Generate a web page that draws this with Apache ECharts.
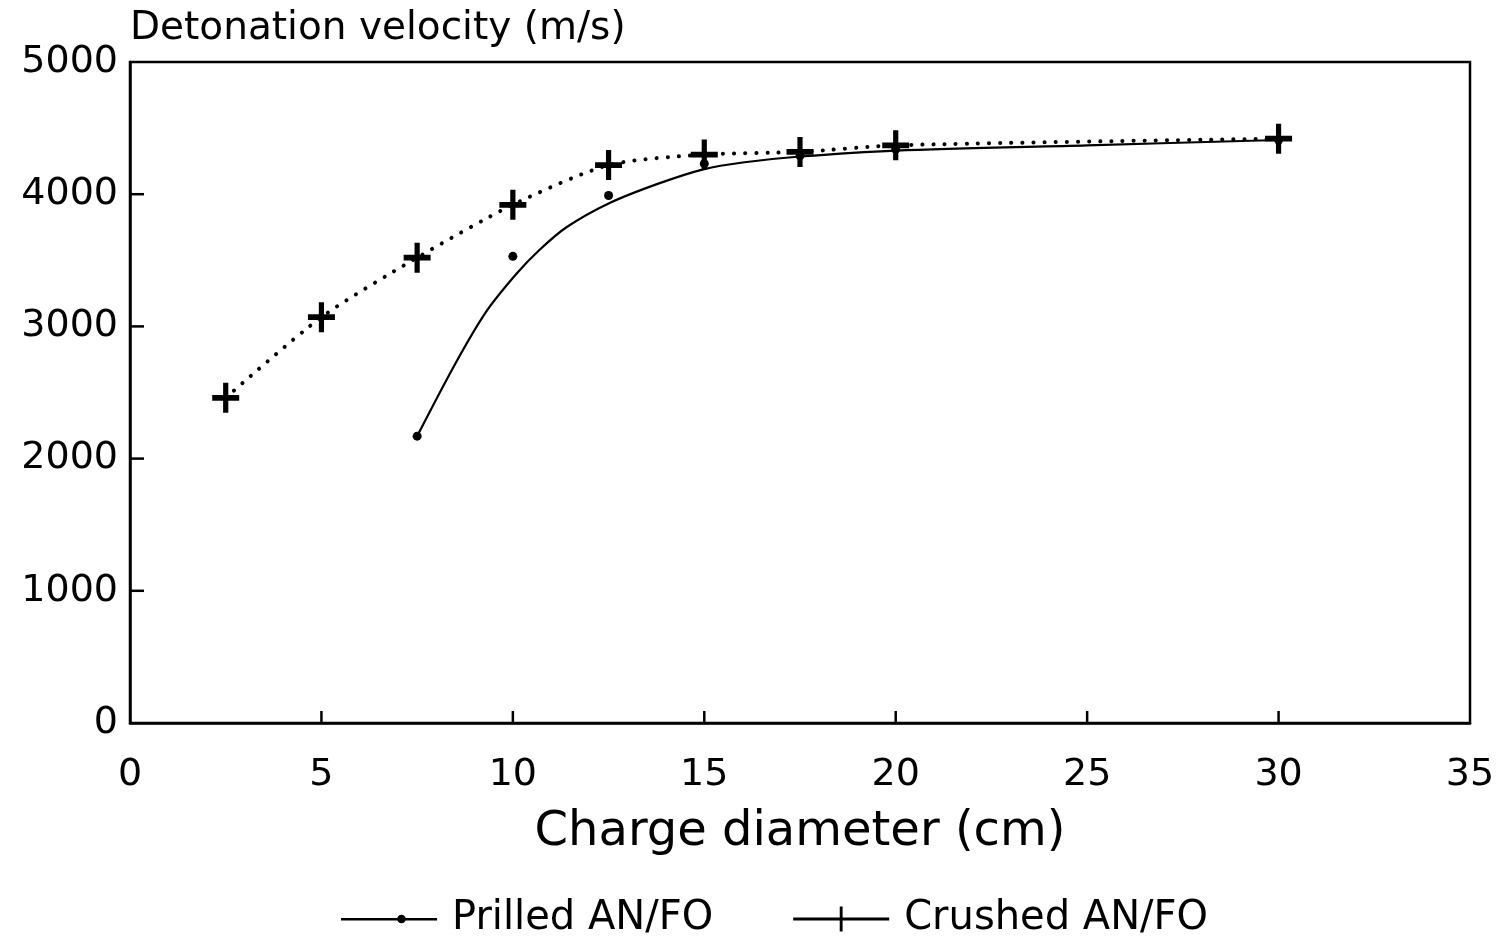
<!DOCTYPE html>
<html>
<head>
<meta charset="utf-8">
<script src="https://cdn.jsdelivr.net/npm/echarts@6/dist/echarts.min.js"></script>
<style>
html,body{margin:0;padding:0;background:#fff;}
#chart{width:1502px;height:936px;}
</style>
</head>
<body>
<div id="chart"></div>
<script>
// Data
var crushedX = [2.5, 5, 7.5, 10, 12.5, 15, 17.5, 20, 30];
var crushedY = [2460, 3070, 3520, 3920, 4220, 4300, 4320, 4370, 4420];
var prilledPointX = [7.5, 10, 12.5, 15, 17.5, 20, 30];
var prilledPointY = [2170, 3530, 3990, 4230, 4290, 4340, 4410];
var prilledCurveX = [7.5, 8.5, 9.3, 10.1, 10.7, 11.4, 12.5, 13.8, 15, 16, 17.5, 20, 25, 30];
var prilledCurveY = [2170, 2720, 3110, 3400, 3580, 3750, 3930, 4080, 4190, 4240, 4285, 4330, 4370, 4410];
var xTicks = [0, 5, 10, 15, 20, 25, 30, 35];
var yTicks = [0, 1000, 2000, 3000, 4000, 5000];

function pairs(xs, ys) { return xs.map(function (x, i) { return [x, ys[i]]; }); }

var FONT = 'DejaVu Sans';
var plusPath = 'path://M0,10.5L26,10.5L26,15.5L0,15.5Z M10.5,0L15.5,0L15.5,26L10.5,26Z';
var legendPrilled = 'path://M0,12L100,12L100,14.5L0,14.5Z M63,8.5A4.5,4.5 0 1,1 62.99,8.5Z';
var legendCrushed = 'path://M0,11.5L100,11.5L100,14.5L0,14.5Z M48.5,0L51.5,0L51.5,26L48.5,26Z';

// inward tick marks drawn through the axis scales
function tickSeries(values, isX) {
  return {
    type: 'custom', silent: true, z: 5, clip: false,
    data: values.map(function (v) { return isX ? [v, 0] : [0, v]; }),
    renderItem: function (params, api) {
      var p = api.coord([api.value(0), api.value(1)]);
      var shape = isX ? {x1: p[0], y1: p[1], x2: p[0], y2: p[1] - 12}
                      : {x1: p[0], y1: p[1], x2: p[0] + 14, y2: p[1]};
      return {type: 'line', shape: shape, style: {stroke: '#000', lineWidth: 2.5}};
    }
  };
}

var chart = echarts.init(document.getElementById('chart'), null, {renderer: 'canvas'});
chart.setOption({
  animation: false,
  backgroundColor: '#ffffff',
  grid: {
    left: 130, right: 32, top: 62, bottom: 213,
    show: true, borderColor: '#000', borderWidth: 2.5, backgroundColor: 'transparent'
  },
  legend: {
    left: 336, top: 894,
    itemWidth: 96, itemHeight: 26, itemGap: 80,
    textStyle: {fontFamily: FONT, fontSize: 40, color: '#000', padding: [0, 0, 0, 10]},
    data: [
      {name: 'Prilled AN/FO', icon: legendPrilled},
      {name: 'Crushed AN/FO', icon: legendCrushed}
    ]
  },
  xAxis: {
    type: 'value', min: 0, max: 35, interval: 5,
    name: 'Charge diameter (cm)', nameLocation: 'middle', nameGap: 86,
    nameTextStyle: {fontFamily: FONT, fontSize: 48, color: '#000'},
    axisLine: {show: true, onZero: false, lineStyle: {color: '#000', width: 2.5}},
    axisTick: {show: false},
    axisLabel: {fontFamily: FONT, fontSize: 38, color: '#000', margin: 33,
      formatter: function (v) { return xTicks.indexOf(v) >= 0 ? String(v) : ''; }},
    splitLine: {show: false}
  },
  yAxis: {
    type: 'value', min: 0, max: 5000, interval: 1000,
    name: 'Detonation velocity (m/s)', nameLocation: 'end', nameGap: 14,
    nameTextStyle: {fontFamily: FONT, fontSize: 39, color: '#000', align: 'left'},
    axisLine: {show: true, onZero: false, lineStyle: {color: '#000', width: 2.5}},
    axisTick: {show: false},
    axisLabel: {fontFamily: FONT, fontSize: 38, color: '#000', margin: 12,
      formatter: function (v) { return yTicks.indexOf(v) >= 0 ? String(v) : ''; }},
    splitLine: {show: false}
  },
  series: [
    tickSeries(xTicks.slice(1, -1), true),
    tickSeries(yTicks.slice(1, -1), false),
    {
      name: 'Prilled AN/FO', type: 'line',
      data: pairs(prilledCurveX, prilledCurveY),
      smooth: 0.3,
      showSymbol: false, symbol: 'none',
      lineStyle: {color: '#000', width: 2.2},
      itemStyle: {color: '#000'},
      z: 2
    },
    {
      name: 'Prilled AN/FO', type: 'scatter',
      data: pairs(prilledPointX, prilledPointY),
      symbol: 'circle', symbolSize: 9,
      itemStyle: {color: '#000', opacity: 1},
      z: 3
    },
    {
      name: 'Crushed AN/FO', type: 'line',
      data: pairs(crushedX, crushedY),
      smooth: 0.25,
      symbol: plusPath, symbolSize: [27, 30], showAllSymbol: true,
      lineStyle: {color: '#000', width: 4, type: [0.1, 11], cap: 'round'},
      itemStyle: {color: '#000'},
      z: 4
    }
  ]
});
</script>
</body>
</html>
